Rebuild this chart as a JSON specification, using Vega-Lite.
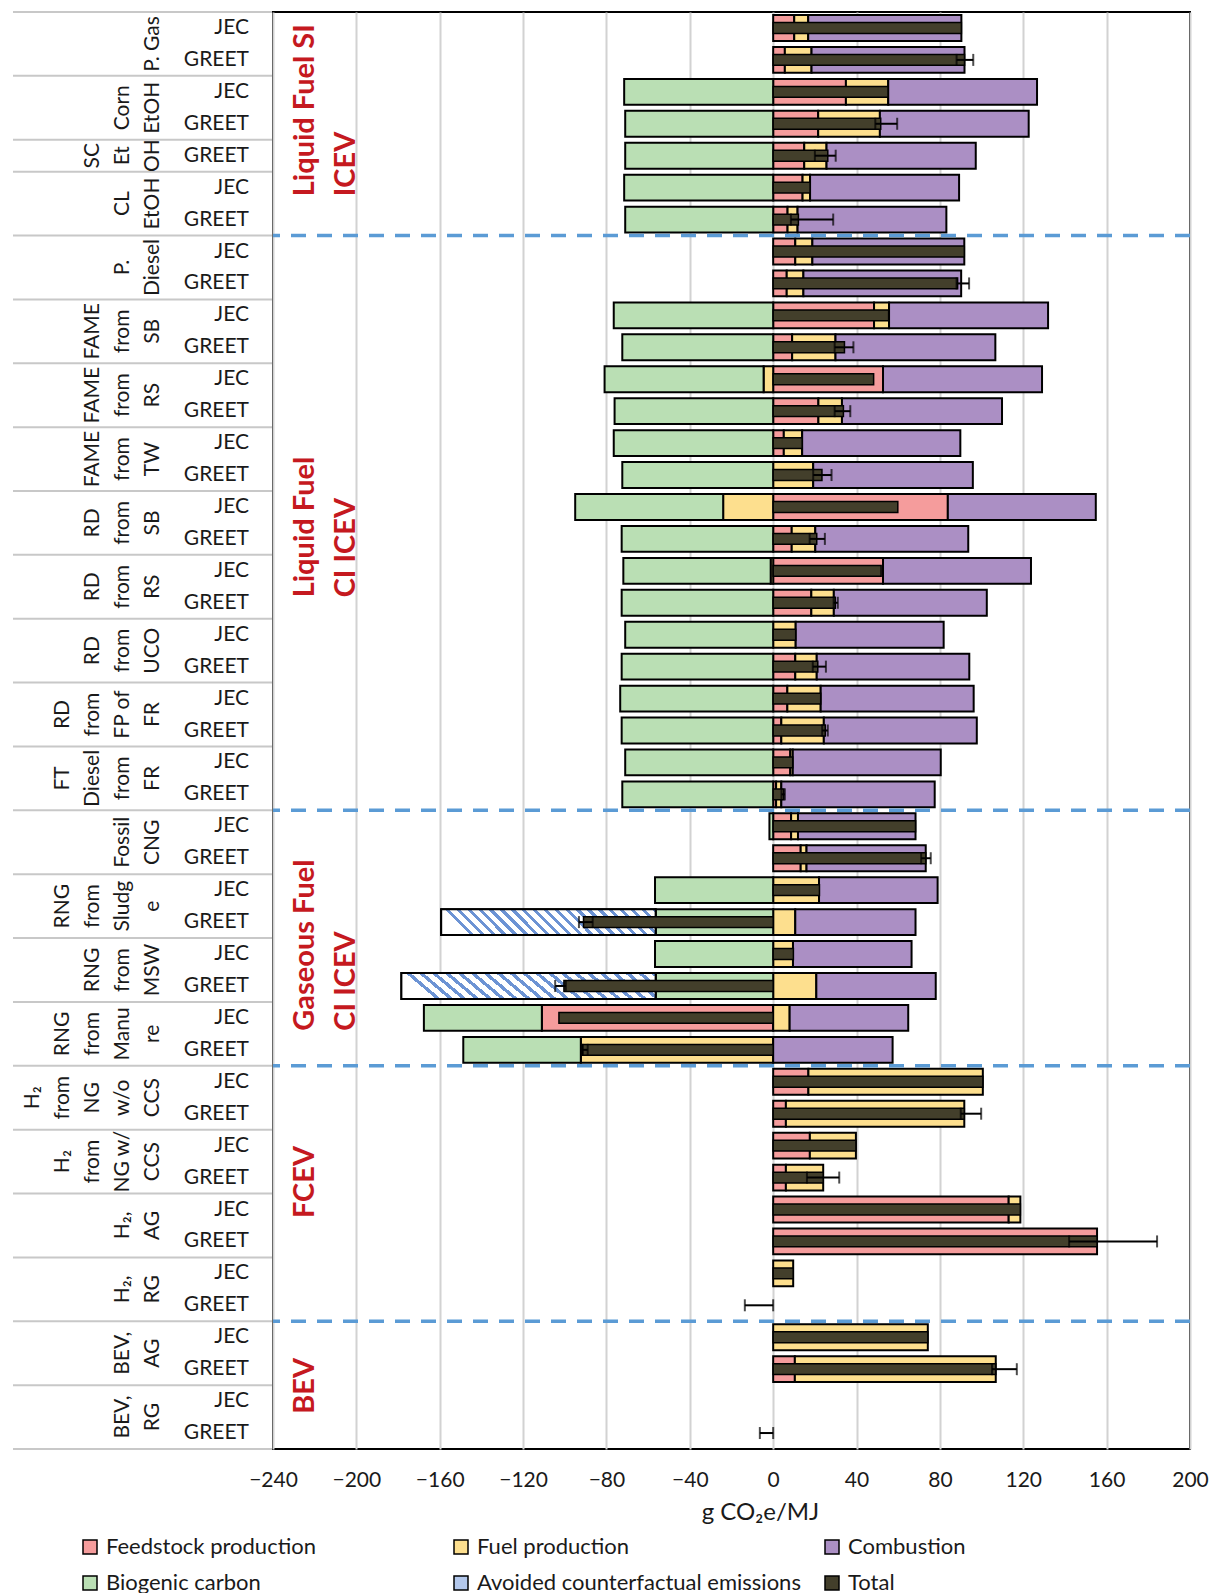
{
  "$schema": "https://vega.github.io/schema/vega-lite/v6.json",
  "padding": {"left": 12, "top": 11, "right": 0, "bottom": 0},
  "background": "white",
  "config": {
    "font": "Lato",
    "view": {"stroke": "black", "strokeWidth": 2},
    "text": {"angle": 270, "align": "center", "baseline": "bottom", "lineBreak": "\n", "lineHeight": 30, "fontSize": 21, "color": "#1a1a1a"}
  },
  "datasets": {
    "bars": [
      {"row": "P. Gas|JEC", "src": "JEC", "Feedstock production": 10.1, "Fuel production": 6.7, "Combustion": 73.5, "total": 90.3},
      {"row": "P. Gas|GREET", "src": "GREET", "Feedstock production": 5.6, "Fuel production": 12.8, "Combustion": 73.4, "total": 91.8, "lo": 88, "hi": 96},
      {"row": "Corn EtOH|JEC", "src": "JEC", "Feedstock production": 34.9, "Fuel production": 20.3, "Combustion": 71.4, "Biogenic carbon": -71.5, "total": 55.1},
      {"row": "Corn EtOH|GREET", "src": "GREET", "Feedstock production": 21.6, "Fuel production": 29.6, "Combustion": 71.4, "Biogenic carbon": -71, "total": 51.6, "lo": 49, "hi": 59.5},
      {"row": "SC EtOH|GREET", "src": "GREET", "Feedstock production": 14.9, "Fuel production": 10.7, "Combustion": 71.6, "Biogenic carbon": -71, "total": 26.2, "lo": 20, "hi": 30},
      {"row": "CL EtOH|JEC", "src": "JEC", "Feedstock production": 14.1, "Fuel production": 3.6, "Combustion": 71.5, "Biogenic carbon": -71.5, "total": 17.7},
      {"row": "CL EtOH|GREET", "src": "GREET", "Feedstock production": 6.9, "Fuel production": 4.8, "Combustion": 71.4, "Biogenic carbon": -71, "total": 12.1, "lo": 8.5, "hi": 28.8},
      {"row": "P. Diesel|JEC", "src": "JEC", "Feedstock production": 10.6, "Fuel production": 8.2, "Combustion": 72.9, "total": 91.7},
      {"row": "P. Diesel|GREET", "src": "GREET", "Feedstock production": 6.5, "Fuel production": 8, "Combustion": 75.7, "total": 88.5, "lo": 88, "hi": 94},
      {"row": "FAME SB|JEC", "src": "JEC", "Feedstock production": 48.4, "Fuel production": 7.2, "Combustion": 76.3, "Biogenic carbon": -76.5, "total": 55.4},
      {"row": "FAME SB|GREET", "src": "GREET", "Feedstock production": 9.1, "Fuel production": 20.8, "Combustion": 76.7, "Biogenic carbon": -72.4, "total": 34.2, "lo": 29.5, "hi": 38.5},
      {"row": "FAME RS|JEC", "src": "JEC", "Feedstock production": 52.7, "Fuel production": -4.6, "Combustion": 76.3, "Biogenic carbon": -76.3, "total": 48.2},
      {"row": "FAME RS|GREET", "src": "GREET", "Feedstock production": 21.7, "Fuel production": 11.3, "Combustion": 76.8, "Biogenic carbon": -76.1, "total": 33.7, "lo": 29.5, "hi": 37},
      {"row": "FAME TW|JEC", "src": "JEC", "Feedstock production": 5.1, "Fuel production": 8.8, "Combustion": 75.9, "Biogenic carbon": -76.5, "total": 13.9},
      {"row": "FAME TW|GREET", "src": "GREET", "Fuel production": 19.2, "Combustion": 76.6, "Biogenic carbon": -72.4, "total": 23.4, "lo": 19.2, "hi": 28},
      {"row": "RD SB|JEC", "src": "JEC", "Feedstock production": 83.8, "Fuel production": -24, "Combustion": 71, "Biogenic carbon": -71, "total": 59.8},
      {"row": "RD SB|GREET", "src": "GREET", "Feedstock production": 8.9, "Fuel production": 11.3, "Combustion": 73.4, "Biogenic carbon": -72.7, "total": 20.9, "lo": 17.5, "hi": 24.8},
      {"row": "RD RS|JEC", "src": "JEC", "Feedstock production": 52.7, "Fuel production": -1.2, "Combustion": 71, "Biogenic carbon": -70.7, "total": 51.8},
      {"row": "RD RS|GREET", "src": "GREET", "Feedstock production": 18.3, "Fuel production": 10.8, "Combustion": 73.4, "Biogenic carbon": -72.7, "total": 29.8, "lo": 29, "hi": 31},
      {"row": "RD UCO|JEC", "src": "JEC", "Fuel production": 10.8, "Combustion": 71, "Biogenic carbon": -71, "total": 10.8},
      {"row": "RD UCO|GREET", "src": "GREET", "Feedstock production": 10.6, "Fuel production": 10.3, "Combustion": 73.2, "Biogenic carbon": -72.7, "total": 21.4, "lo": 19, "hi": 25.3},
      {"row": "RD FR|JEC", "src": "JEC", "Feedstock production": 6.8, "Fuel production": 16, "Combustion": 73.4, "Biogenic carbon": -73.4, "total": 22.8},
      {"row": "RD FR|GREET", "src": "GREET", "Feedstock production": 3.9, "Fuel production": 20.4, "Combustion": 73.4, "Biogenic carbon": -72.7, "total": 25, "lo": 23.5, "hi": 26.2},
      {"row": "FT FR|JEC", "src": "JEC", "Feedstock production": 8.2, "Fuel production": 1.2, "Combustion": 71, "Biogenic carbon": -71, "total": 9.4},
      {"row": "FT FR|GREET", "src": "GREET", "Feedstock production": 1.4, "Fuel production": 2.5, "Combustion": 73.6, "Biogenic carbon": -72.4, "total": 5.1, "lo": 4, "hi": 5.6},
      {"row": "CNG|JEC", "src": "JEC", "Feedstock production": 8.6, "Fuel production": 3.3, "Combustion": 56.4, "Biogenic carbon": -1.8, "total": 68.3},
      {"row": "CNG|GREET", "src": "GREET", "Feedstock production": 13.2, "Fuel production": 2.8, "Combustion": 57.2, "total": 73.2, "lo": 71, "hi": 75.6},
      {"row": "RNG Sludge|JEC", "src": "JEC", "Fuel production": 22, "Combustion": 56.9, "Biogenic carbon": -56.7, "total": 22.2},
      {"row": "RNG Sludge|GREET", "src": "GREET", "Fuel production": 10.6, "Combustion": 57.7, "Biogenic carbon": -56.4, "Avoided counterfactual emissions": -102.9, "total": -91, "lo": -93.2, "hi": -86.6},
      {"row": "RNG MSW|JEC", "src": "JEC", "Fuel production": 9.5, "Combustion": 56.9, "Biogenic carbon": -56.7, "total": 9.7},
      {"row": "RNG MSW|GREET", "src": "GREET", "Fuel production": 20.7, "Combustion": 57.3, "Biogenic carbon": -56.4, "Avoided counterfactual emissions": -122, "total": -100.4, "lo": -104.6, "hi": -99.5},
      {"row": "RNG Manure|JEC", "src": "JEC", "Feedstock production": -111, "Fuel production": 7.9, "Combustion": 56.9, "Biogenic carbon": -56.6, "total": -102.8},
      {"row": "RNG Manure|GREET", "src": "GREET", "Fuel production": -92.3, "Combustion": 57.3, "Biogenic carbon": -56.4, "total": -91.4, "lo": -91.5, "hi": -89},
      {"row": "H2 NG|JEC", "src": "JEC", "Feedstock production": 16.9, "Fuel production": 83.7, "total": 100.6},
      {"row": "H2 NG|GREET", "src": "GREET", "Feedstock production": 6.1, "Fuel production": 85.6, "total": 91.7, "lo": 90, "hi": 99.8},
      {"row": "H2 NG CCS|JEC", "src": "JEC", "Feedstock production": 17.6, "Fuel production": 22.1, "total": 39.7},
      {"row": "H2 NG CCS|GREET", "src": "GREET", "Feedstock production": 6.1, "Fuel production": 17.9, "total": 24, "lo": 16.2, "hi": 31.7},
      {"row": "H2 AG|JEC", "src": "JEC", "Feedstock production": 113, "Fuel production": 5.6, "total": 118.6},
      {"row": "H2 AG|GREET", "src": "GREET", "Feedstock production": 155.4, "total": 155.4, "lo": 142, "hi": 184.2},
      {"row": "H2 RG|JEC", "src": "JEC", "Fuel production": 9.6, "total": 9.6},
      {"row": "H2 RG|GREET", "src": "GREET", "lo": -13.6, "hi": 0},
      {"row": "BEV AG|JEC", "src": "JEC", "Fuel production": 74.2, "total": 74.2},
      {"row": "BEV AG|GREET", "src": "GREET", "Feedstock production": 10.4, "Fuel production": 96.4, "total": 106.8, "lo": 105, "hi": 116.9},
      {"row": "BEV RG|JEC", "src": "JEC"},
      {"row": "BEV RG|GREET", "src": "GREET", "lo": -6.4, "hi": 0}
    ]
  },
  "spacing": 0,
  "bounds": "flush",
  "resolve": {"scale": {"y": "shared", "color": "shared"}, "axis": {"y": "independent"}, "legend": {"color": "shared"}},
  "hconcat": [
    {
      "width": 260,
      "height": 1437,
      "view": {"stroke": null},
      "layer": [
        {
          "data": {"values": [
            {"row": "P. Gas|JEC"}, {"row": "Corn EtOH|JEC"}, {"row": "SC EtOH|GREET"}, {"row": "CL EtOH|JEC"},
            {"row": "P. Diesel|JEC"}, {"row": "FAME SB|JEC"}, {"row": "FAME RS|JEC"}, {"row": "FAME TW|JEC"},
            {"row": "RD SB|JEC"}, {"row": "RD RS|JEC"}, {"row": "RD UCO|JEC"}, {"row": "RD FR|JEC"}, {"row": "FT FR|JEC"},
            {"row": "CNG|JEC"}, {"row": "RNG Sludge|JEC"}, {"row": "RNG MSW|JEC"}, {"row": "RNG Manure|JEC"},
            {"row": "H2 NG|JEC"}, {"row": "H2 NG CCS|JEC"}, {"row": "H2 AG|JEC"}, {"row": "H2 RG|JEC"},
            {"row": "BEV AG|JEC"}, {"row": "BEV RG|JEC"}
          ]},
          "mark": {"type": "rule", "color": "#c8c8c8", "strokeWidth": 2},
          "encoding": {"y": {"field": "row", "type": "nominal", "bandPosition": 0, "axis": null}}
        },
        {
          "data": {"values": [{"row": "BEV RG|GREET"}]},
          "mark": {"type": "rule", "color": "#c8c8c8", "strokeWidth": 2},
          "encoding": {"y": {"field": "row", "type": "nominal", "bandPosition": 1, "axis": null}}
        },
        {
          "data": {"values": [{"row": "P. Gas|GREET", "t": "P. Gas"}]},
          "mark": {"type": "text", "dy": 20},
          "encoding": {"y": {"field": "row", "type": "nominal", "bandPosition": 0, "axis": null}, "text": {"field": "t"}}
        },
        {
          "data": {"values": [
            {"row": "Corn EtOH|GREET", "t": "Corn\nEtOH"},
            {"row": "CL EtOH|GREET", "t": "CL\nEtOH"},
            {"row": "P. Diesel|GREET", "t": "P.\nDiesel"},
            {"row": "CNG|GREET", "t": "Fossil\nCNG"},
            {"row": "H2 AG|GREET", "t": "H₂,\nAG"},
            {"row": "H2 RG|GREET", "t": "H₂,\nRG"},
            {"row": "BEV AG|GREET", "t": "BEV,\nAG"},
            {"row": "BEV RG|GREET", "t": "BEV,\nRG"}
          ]},
          "mark": {"type": "text", "dy": -10},
          "encoding": {"y": {"field": "row", "type": "nominal", "bandPosition": 0, "axis": null}, "text": {"field": "t"}}
        },
        {
          "data": {"values": [
            {"row": "FAME SB|GREET", "t": "FAME\nfrom\nSB"},
            {"row": "FAME RS|GREET", "t": "FAME\nfrom\nRS"},
            {"row": "FAME TW|GREET", "t": "FAME\nfrom\nTW"},
            {"row": "RD SB|GREET", "t": "RD\nfrom\nSB"},
            {"row": "RD RS|GREET", "t": "RD\nfrom\nRS"},
            {"row": "RD UCO|GREET", "t": "RD\nfrom\nUCO"},
            {"row": "RNG MSW|GREET", "t": "RNG\nfrom\nMSW"}
          ]},
          "mark": {"type": "text", "dy": -40},
          "encoding": {"y": {"field": "row", "type": "nominal", "bandPosition": 0, "axis": null}, "text": {"field": "t"}}
        },
        {
          "data": {"values": [{"row": "SC EtOH|GREET", "t": "SC\nEt\nOH"}]},
          "mark": {"type": "text", "dy": -40},
          "encoding": {"y": {"field": "row", "type": "nominal", "bandPosition": 0.5, "axis": null}, "text": {"field": "t"}}
        },
        {
          "data": {"values": [
            {"row": "RD FR|GREET", "t": "RD\nfrom\nFP of\nFR"},
            {"row": "FT FR|GREET", "t": "FT\nDiesel\nfrom\nFR"},
            {"row": "RNG Sludge|GREET", "t": "RNG\nfrom\nSludg\ne"},
            {"row": "RNG Manure|GREET", "t": "RNG\nfrom\nManu\nre"},
            {"row": "H2 NG CCS|GREET", "t": "H₂\nfrom\nNG w/\nCCS"}
          ]},
          "mark": {"type": "text", "dy": -70},
          "encoding": {"y": {"field": "row", "type": "nominal", "bandPosition": 0, "axis": null}, "text": {"field": "t"}}
        },
        {
          "data": {"values": [{"row": "H2 NG|GREET", "t": "H₂\nfrom\nNG\nw/o\nCCS"}]},
          "mark": {"type": "text", "dy": -100},
          "encoding": {"y": {"field": "row", "type": "nominal", "bandPosition": 0, "axis": null}, "text": {"field": "t"}}
        },
        {
          "data": {"name": "bars"},
          "mark": {"type": "text", "angle": 0, "align": "right", "baseline": "middle", "dx": -24},
          "encoding": {
            "x": {"value": "width"},
            "y": {"field": "row", "type": "nominal", "axis": null},
            "text": {"field": "src"}
          }
        }
      ]
    },
    {
      "width": 917,
      "height": 1437,
      "data": {"name": "bars"},
      "layer": [
        {
          "transform": [
            {"fold": ["Feedstock production", "Fuel production", "Combustion", "Biogenic carbon", "Avoided counterfactual emissions"], "as": ["comp", "v"]},
            {"filter": "isValid(datum.v) && datum.v !== 0"},
            {"calculate": "indexof(['Feedstock production','Fuel production','Combustion','Biogenic carbon','Avoided counterfactual emissions'], datum.comp)", "as": "ord"},
            {"stack": "v", "groupby": ["row"], "sort": [{"field": "ord", "order": "ascending"}], "as": ["v0", "v1"]}
          ],
          "layer": [
            {
              "mark": {"type": "bar", "height": {"band": 0.81}, "stroke": "black", "strokeWidth": 2},
              "encoding": {
                "y": {"field": "row", "type": "nominal", "axis": null, "scale": {"paddingInner": 0, "paddingOuter": 0, "domain": ["P. Gas|JEC","P. Gas|GREET","Corn EtOH|JEC","Corn EtOH|GREET","SC EtOH|GREET","CL EtOH|JEC","CL EtOH|GREET","P. Diesel|JEC","P. Diesel|GREET","FAME SB|JEC","FAME SB|GREET","FAME RS|JEC","FAME RS|GREET","FAME TW|JEC","FAME TW|GREET","RD SB|JEC","RD SB|GREET","RD RS|JEC","RD RS|GREET","RD UCO|JEC","RD UCO|GREET","RD FR|JEC","RD FR|GREET","FT FR|JEC","FT FR|GREET","CNG|JEC","CNG|GREET","RNG Sludge|JEC","RNG Sludge|GREET","RNG MSW|JEC","RNG MSW|GREET","RNG Manure|JEC","RNG Manure|GREET","H2 NG|JEC","H2 NG|GREET","H2 NG CCS|JEC","H2 NG CCS|GREET","H2 AG|JEC","H2 AG|GREET","H2 RG|JEC","H2 RG|GREET","BEV AG|JEC","BEV AG|GREET","BEV RG|JEC","BEV RG|GREET"]}},
                "x": {
                  "field": "v0", "type": "quantitative",
                  "scale": {"domain": [-240, 200], "nice": false},
                  "axis": {
                    "values": [-240, -200, -160, -120, -80, -40, 0, 40, 80, 120, 160, 200],
                    "grid": true, "gridColor": "#d2d2d2", "gridWidth": 2,
                    "ticks": false, "domain": false,
                    "labelFontSize": 21, "labelPadding": 20, "labelColor": "#1a1a1a",
                    "labelFlush": false, "labelOverlap": false,
                    "title": "g CO₂e/MJ", "titleFontSize": 24, "titleFontWeight": "normal",
                    "titleColor": "#1a1a1a", "titlePadding": 10, "titleX": 487
                  }
                },
                "x2": {"field": "v1"},
                "color": {
                  "field": "comp", "type": "nominal",
                  "scale": {
                    "domain": ["Feedstock production", "Fuel production", "Combustion", "Biogenic carbon", "Avoided counterfactual emissions", "Total"],
                    "range": ["#f59c9c", "#fddf8e", "#ab8fc4", "#badfb4", "#b3c8ec", "#433f2b"]
                  },
                  "legend": {
                    "title": null, "orient": "none", "legendX": 66, "legendY": 1524,
                    "direction": "horizontal", "columns": 3, "columnPadding": 20, "rowPadding": 14,
                    "gridAlign": "all", "padding": 0,
                    "symbolType": "square", "symbolSize": 196, "symbolStrokeColor": "black", "symbolStrokeWidth": 1.5,
                    "labelFontSize": 22, "labelOffset": 5, "labelLimit": 400, "labelColor": "#1a1a1a",
                    "encode": {
                      "symbols": {
                        "update": {
                          "stroke": {"value": "black"},
                          "strokeWidth": {"value": 1.5},
                          "fill": [
                            {"test": "datum.value === 'Avoided counterfactual emissions'", "value": {"gradient": "linear", "x1": 0, "y1": 0, "x2": 1, "y2": 1, "stops": [
                              {"offset": 0, "color": "white"}, {"offset": 0.2, "color": "white"}, {"offset": 0.2, "color": "#6c93d4"}, {"offset": 0.33, "color": "#6c93d4"},
                              {"offset": 0.33, "color": "white"}, {"offset": 0.53, "color": "white"}, {"offset": 0.53, "color": "#6c93d4"}, {"offset": 0.66, "color": "#6c93d4"},
                              {"offset": 0.66, "color": "white"}, {"offset": 0.86, "color": "white"}, {"offset": 0.86, "color": "#6c93d4"}, {"offset": 1, "color": "#6c93d4"}
                            ]}},
                            {"scale": "color", "field": "value"}
                          ]
                        }
                      }
                    }
                  }
                }
              }
            },
            {
              "transform": [{"filter": "datum.comp === 'Avoided counterfactual emissions'"}],
              "mark": {
                "type": "bar", "height": {"band": 0.81}, "stroke": "black", "strokeWidth": 2,
                "fill": {
                  "gradient": "linear", "x1": 0, "y1": 0.12, "x2": 1, "y2": 0,
                  "stops": [
                    {"offset": 0, "color": "white"}, {"offset": 0.03, "color": "white"}, {"offset": 0.03, "color": "#6c93d4"}, {"offset": 0.05, "color": "#6c93d4"},
                    {"offset": 0.05, "color": "white"}, {"offset": 0.08, "color": "white"}, {"offset": 0.08, "color": "#6c93d4"}, {"offset": 0.1, "color": "#6c93d4"},
                    {"offset": 0.1, "color": "white"}, {"offset": 0.13, "color": "white"}, {"offset": 0.13, "color": "#6c93d4"}, {"offset": 0.15, "color": "#6c93d4"},
                    {"offset": 0.15, "color": "white"}, {"offset": 0.18, "color": "white"}, {"offset": 0.18, "color": "#6c93d4"}, {"offset": 0.2, "color": "#6c93d4"},
                    {"offset": 0.2, "color": "white"}, {"offset": 0.23, "color": "white"}, {"offset": 0.23, "color": "#6c93d4"}, {"offset": 0.25, "color": "#6c93d4"},
                    {"offset": 0.25, "color": "white"}, {"offset": 0.28, "color": "white"}, {"offset": 0.28, "color": "#6c93d4"}, {"offset": 0.3, "color": "#6c93d4"},
                    {"offset": 0.3, "color": "white"}, {"offset": 0.33, "color": "white"}, {"offset": 0.33, "color": "#6c93d4"}, {"offset": 0.35, "color": "#6c93d4"},
                    {"offset": 0.35, "color": "white"}, {"offset": 0.38, "color": "white"}, {"offset": 0.38, "color": "#6c93d4"}, {"offset": 0.4, "color": "#6c93d4"},
                    {"offset": 0.4, "color": "white"}, {"offset": 0.43, "color": "white"}, {"offset": 0.43, "color": "#6c93d4"}, {"offset": 0.45, "color": "#6c93d4"},
                    {"offset": 0.45, "color": "white"}, {"offset": 0.48, "color": "white"}, {"offset": 0.48, "color": "#6c93d4"}, {"offset": 0.5, "color": "#6c93d4"},
                    {"offset": 0.5, "color": "white"}, {"offset": 0.53, "color": "white"}, {"offset": 0.53, "color": "#6c93d4"}, {"offset": 0.55, "color": "#6c93d4"},
                    {"offset": 0.55, "color": "white"}, {"offset": 0.58, "color": "white"}, {"offset": 0.58, "color": "#6c93d4"}, {"offset": 0.6, "color": "#6c93d4"},
                    {"offset": 0.6, "color": "white"}, {"offset": 0.63, "color": "white"}, {"offset": 0.63, "color": "#6c93d4"}, {"offset": 0.65, "color": "#6c93d4"},
                    {"offset": 0.65, "color": "white"}, {"offset": 0.68, "color": "white"}, {"offset": 0.68, "color": "#6c93d4"}, {"offset": 0.7, "color": "#6c93d4"},
                    {"offset": 0.7, "color": "white"}, {"offset": 0.73, "color": "white"}, {"offset": 0.73, "color": "#6c93d4"}, {"offset": 0.75, "color": "#6c93d4"},
                    {"offset": 0.75, "color": "white"}, {"offset": 0.78, "color": "white"}, {"offset": 0.78, "color": "#6c93d4"}, {"offset": 0.8, "color": "#6c93d4"},
                    {"offset": 0.8, "color": "white"}, {"offset": 0.83, "color": "white"}, {"offset": 0.83, "color": "#6c93d4"}, {"offset": 0.85, "color": "#6c93d4"},
                    {"offset": 0.85, "color": "white"}, {"offset": 0.88, "color": "white"}, {"offset": 0.88, "color": "#6c93d4"}, {"offset": 0.9, "color": "#6c93d4"},
                    {"offset": 0.9, "color": "white"}, {"offset": 0.93, "color": "white"}, {"offset": 0.93, "color": "#6c93d4"}, {"offset": 0.95, "color": "#6c93d4"},
                    {"offset": 0.95, "color": "white"}, {"offset": 0.98, "color": "white"}, {"offset": 0.98, "color": "#6c93d4"}, {"offset": 1, "color": "#6c93d4"}
                  ]
                }
              },
              "encoding": {
                "y": {"field": "row", "type": "nominal", "axis": null},
                "x": {"field": "v0", "type": "quantitative"},
                "x2": {"field": "v1"}
              }
            }
          ]
        },
        {
          "transform": [{"filter": "isValid(datum.total)"}],
          "mark": {"type": "bar", "height": {"band": 0.34}, "stroke": "black", "strokeWidth": 1.5},
          "encoding": {
            "y": {"field": "row", "type": "nominal", "axis": null},
            "x": {"field": "total", "type": "quantitative"},
            "color": {"datum": "Total", "type": "nominal"}
          }
        },
        {
          "transform": [{"filter": "isValid(datum.lo)"}],
          "mark": {"type": "rule", "color": "black", "strokeWidth": 2},
          "encoding": {
            "y": {"field": "row", "type": "nominal", "axis": null},
            "x": {"field": "lo", "type": "quantitative"},
            "x2": {"field": "hi"}
          }
        },
        {
          "transform": [{"filter": "isValid(datum.lo)"}],
          "mark": {"type": "tick", "color": "black", "thickness": 2, "size": 12},
          "encoding": {
            "y": {"field": "row", "type": "nominal", "axis": null},
            "x": {"field": "lo", "type": "quantitative"}
          }
        },
        {
          "transform": [{"filter": "isValid(datum.hi)"}],
          "mark": {"type": "tick", "color": "black", "thickness": 2, "size": 12},
          "encoding": {
            "y": {"field": "row", "type": "nominal", "axis": null},
            "x": {"field": "hi", "type": "quantitative"}
          }
        },
        {
          "data": {"values": [{"row": "P. Diesel|JEC"}, {"row": "CNG|JEC"}, {"row": "H2 NG|JEC"}, {"row": "BEV AG|JEC"}]},
          "mark": {"type": "rule", "color": "#5b9bd5", "strokeWidth": 3.5, "strokeDash": [15, 11]},
          "encoding": {"y": {"field": "row", "type": "nominal", "bandPosition": 0, "axis": null}}
        },
        {
          "data": {"values": [{"row": "CL EtOH|JEC", "t": "Liquid Fuel SI\nICEV"}, {"row": "H2 AG|JEC", "t": "FCEV"}]},
          "mark": {"type": "text", "angle": 270, "align": "left", "baseline": "top", "lineBreak": "\n", "lineHeight": 41, "fontSize": 29, "fontWeight": "bold", "color": "#c5191f", "dy": 18},
          "encoding": {
            "y": {"field": "row", "type": "nominal", "bandPosition": 0.77, "axis": null},
            "x": {"datum": -240, "type": "quantitative"},
            "text": {"field": "t"}
          }
        },
        {
          "data": {"values": [{"row": "RD RS|GREET", "t": "Liquid Fuel\nCI ICEV"}]},
          "mark": {"type": "text", "angle": 270, "align": "left", "baseline": "top", "lineBreak": "\n", "lineHeight": 41, "fontSize": 29, "fontWeight": "bold", "color": "#c5191f", "dy": 18},
          "encoding": {
            "y": {"field": "row", "type": "nominal", "bandPosition": 0.33, "axis": null},
            "x": {"datum": -240, "type": "quantitative"},
            "text": {"field": "t"}
          }
        },
        {
          "data": {"values": [{"row": "RNG Manure|JEC", "t": "Gaseous Fuel\nCI ICEV"}, {"row": "BEV RG|JEC", "t": "BEV"}]},
          "mark": {"type": "text", "angle": 270, "align": "left", "baseline": "top", "lineBreak": "\n", "lineHeight": 41, "fontSize": 29, "fontWeight": "bold", "color": "#c5191f", "dy": 18},
          "encoding": {
            "y": {"field": "row", "type": "nominal", "bandPosition": 0.9, "axis": null},
            "x": {"datum": -240, "type": "quantitative"},
            "text": {"field": "t"}
          }
        }
      ]
    }
  ]
}
